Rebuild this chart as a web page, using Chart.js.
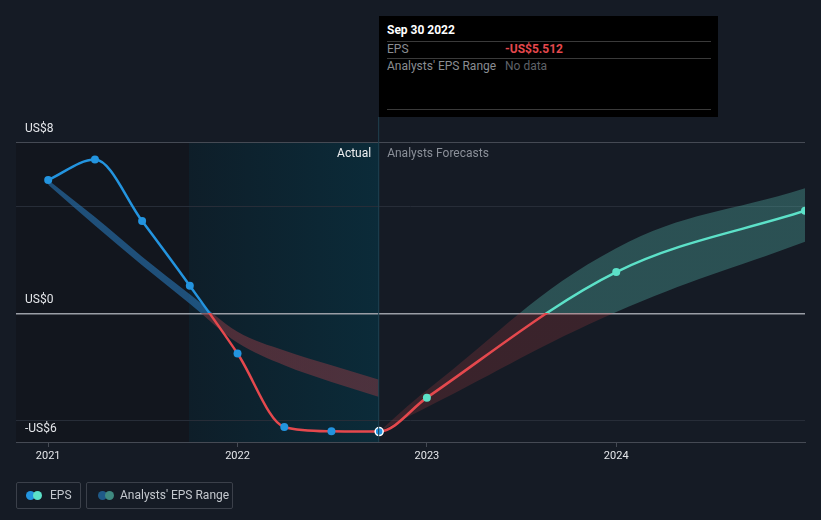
<!DOCTYPE html>
<html>
<head>
<meta charset="utf-8">
<script src="https://cdn.jsdelivr.net/npm/chart.js@4"></script>
<style>
body { margin: 0; background: #151b25; font-family: Roboto, sans-serif; }
#wrap { position: relative; width: 821px; height: 520px; }
#tip { position: absolute; left: 379px; top: 16px; width: 339px; height: 101px; background: #000; font-size: 12px; }
#tip .ttl { position: absolute; left: 8px; top: 7px; color: #fff; font-weight: bold; }
#tip .ln { position: absolute; left: 8px; width: 324px; height: 1px; background: #3a3a3a; }
#tip .k { position: absolute; left: 8px; color: #8a8d92; }
#tip .v { position: absolute; left: 126px; }
.leg { position: absolute; top: 482px; height: 25px; border: 1px solid #3b404a; border-radius: 2px; color: #c4c8ce; font-size: 12px; line-height: 25px; }
.dot { position: absolute; top: 8px; width: 9px; height: 9px; border-radius: 50%; }
</style>
</head>
<body>
<div id="wrap">
<canvas id="eps" width="821" height="520"></canvas>
<div id="tip">
  <div class="ttl">Sep 30 2022</div>
  <div class="ln" style="top:25px"></div>
  <div class="k" style="top:26px">EPS</div>
  <div class="v" style="top:26px;color:#e5484d;font-weight:bold">-US$5.512</div>
  <div class="ln" style="top:42px"></div>
  <div class="k" style="top:43px">Analysts' EPS Range</div>
  <div class="v" style="top:43px;color:#5f6268">No data</div>
  <div class="ln" style="top:93px"></div>
</div>
<div class="leg" style="left:16px;width:63px">
  <span class="dot" style="left:9px;background:#2394df"></span>
  <span class="dot" style="left:16px;background:#5ce1c8"></span>
  <span style="position:absolute;left:33px">EPS</span>
</div>
<div class="leg" style="left:86px;width:145px">
  <span class="dot" style="left:11px;background:#1f5a88"></span>
  <span class="dot" style="left:18px;background:#3f8a80"></span>
  <span style="position:absolute;left:33px">Analysts' EPS Range</span>
</div>
</div>
<script>
// quarterly EPS, decimal years
var epsDates = [2021.0, 2021.247, 2021.496, 2021.748, 2022.0, 2022.247, 2022.496, 2022.748];
var epsValues = [6.23, 7.18, 4.31, 1.29, -1.87, -5.30, -5.50, -5.512];

// past analyst estimates (range)
var pastHigh = [6.23, 4.5, 2.65, 0.9, -0.85, -1.73, -2.42, -3.1];
var pastLow = [6.0, 4.1, 2.25, 0.45, -1.37, -2.42, -3.2, -3.9];

// forecasts (start at the last actual)
var fcDates = [2022.748, 2023.0, 2024.0, 2024.997];
var fcValues = [-5.512, -3.93, 1.93, 4.79];
var fcHigh = [-5.512, -3.58, 3.04, 5.84];
var fcLow = [-5.512, -4.38, 0.07, 3.35];

var yTicks = [-6, -5, 0, 5, 8];
var yLabels = { '8': 'US$8', '0': 'US$0', '-6': '-US$6' };
var xYears = [2021, 2022, 2023, 2024];

function pts(xs, ys) {
  return xs.map(function (x, i) { return { x: x, y: ys[i] }; });
}

// forecast line joined to the previous actual so the curve leaves it smoothly
var fcLine = [{ x: epsDates[6], y: epsValues[6] }].concat(pts(fcDates, fcValues));

// colour split at zero
function splitColor(above, below) {
  return function (c) {
    var ch = c.chart, area = ch.chartArea;
    if (!area) return above;
    var y0 = ch.scales.y.getPixelForValue(0);
    var g = ch.ctx.createLinearGradient(0, area.top, 0, area.bottom);
    var s = Math.min(Math.max((y0 - area.top) / (area.bottom - area.top), 0), 1);
    g.addColorStop(0, above);
    g.addColorStop(s, above);
    g.addColorStop(s, below);
    g.addColorStop(1, below);
    return g;
  };
}

var bgPlugin = {
  id: 'bg',
  beforeDraw: function (ch) {
    var c = ch.ctx, a = ch.chartArea, x = ch.scales.x;
    c.save();
    c.fillStyle = '#151b25';
    c.fillRect(0, 0, ch.width, ch.height);
    var xa = x.getPixelForValue(2021.744), xb = x.getPixelForValue(2022.748);
    c.fillStyle = '#12161e';
    c.fillRect(a.left, a.top, xa - a.left, a.bottom - a.top);
    var g = c.createLinearGradient(xa, 0, xb, 0);
    g.addColorStop(0, '#0e1e29');
    g.addColorStop(1, '#0b2b39');
    c.fillStyle = g;
    c.fillRect(xa, a.top, xb - xa, a.bottom - a.top);
    c.restore();
  },
  afterDraw: function (ch) {
    var c = ch.ctx, a = ch.chartArea, y = ch.scales.y, x = ch.scales.x;
    c.save();
    c.font = '12px Roboto';
    c.textBaseline = 'middle';
    c.fillStyle = '#e4e6ea';
    Object.keys(yLabels).forEach(function (k) {
      c.fillText(yLabels[k], 25, y.getPixelForValue(+k) - 13);
    });
    var xb = x.getPixelForValue(2022.748);
    c.strokeStyle = '#1f4150';
    c.lineWidth = 1;
    c.beginPath();
    c.moveTo(xb - 0.5, 117);
    c.lineTo(xb - 0.5, a.bottom);
    c.stroke();
    c.textAlign = 'right';
    c.fillStyle = '#eef0f2';
    c.fillText('Actual', xb - 8, 154);
    c.textAlign = 'left';
    c.fillStyle = '#8b9099';
    c.fillText('Analysts Forecasts', xb + 8, 154);
    c.restore();
  }
};

var gridColor = function (c) {
  var v = c.tick && c.tick.value;
  if (v === 0) return '#9a9ea6';
  if (v === 8 || v === -6) return '#454a54';
  return '#272d38';
};

var config = {
  type: 'line',
  data: {
    datasets: [
      {
        label: 'pastHigh', data: pts(epsDates, pastHigh), order: 5,
        borderWidth: 0, pointRadius: 0, cubicInterpolationMode: 'monotone', fill: false
      },
      {
        label: 'pastLow', data: pts(epsDates, pastLow), order: 5,
        borderWidth: 0, pointRadius: 0, cubicInterpolationMode: 'monotone', fill: '-1',
        backgroundColor: splitColor('rgba(38,110,170,0.65)', 'rgba(120,55,65,0.6)')
      },
      {
        label: 'fcHigh', data: pts(fcDates, fcHigh), order: 5,
        borderWidth: 0, pointRadius: 0, tension: 0.4, fill: false
      },
      {
        label: 'fcLow', data: pts(fcDates, fcLow), order: 5,
        borderWidth: 0, pointRadius: 0, tension: 0.4, fill: '-1',
        backgroundColor: splitColor('rgba(88,190,178,0.33)', 'rgba(226,72,72,0.18)')
      },
      {
        label: 'EPS forecast', data: fcLine, order: 2,
        borderColor: splitColor('#5ce1c8', '#e5484d'), borderWidth: 2.5,
        cubicInterpolationMode: 'monotone', fill: false,
        segment: { borderColor: function (s) { return s.p0DataIndex === 0 ? 'rgba(0,0,0,0)' : undefined; } },
        pointRadius: [0, 0, 4, 4, 4], pointBackgroundColor: '#5ce1c8', pointBorderWidth: 0
      },
      {
        label: 'EPS', data: pts(epsDates, epsValues), order: 1,
        borderColor: splitColor('#2394df', '#e5484d'), borderWidth: 2.5,
        cubicInterpolationMode: 'monotone', fill: false,
        pointRadius: 4, pointBackgroundColor: '#2394df',
        pointBorderColor: ['#2394df', '#2394df', '#2394df', '#2394df', '#2394df', '#2394df', '#2394df', '#ffffff'],
        pointBorderWidth: [0, 0, 0, 0, 0, 0, 0, 1.5]
      }
    ]
  },
  options: {
    responsive: false,
    animation: false,
    layout: { padding: { left: 16, right: 16, top: 142, bottom: 48 } },
    plugins: { legend: { display: false }, tooltip: { enabled: false } },
    scales: {
      x: {
        type: 'linear', min: 2020.83, max: 2024.997,
        afterBuildTicks: function (s) { s.ticks = xYears.map(function (v) { return { value: v }; }); },
        afterFit: function (s) { s.height = 30; },
        ticks: { color: '#e4e6ea', font: { family: 'Roboto', size: 11 }, padding: 3, callback: function (v) { return String(v); } },
        grid: { drawOnChartArea: false, drawTicks: true, tickLength: 5, color: '#454a54' },
        border: { display: true, color: '#454a54' }
      },
      y: {
        min: -6, max: 8,
        afterBuildTicks: function (s) { s.ticks = yTicks.map(function (v) { return { value: v }; }); },
        afterFit: function (s) { s.width = 0; },
        ticks: { display: false },
        grid: { color: gridColor, drawTicks: false, lineWidth: function (c) { return c.tick && c.tick.value === 0 ? 1.5 : 1; } },
        border: { display: false }
      }
    }
  },
  plugins: [bgPlugin]
};

window.onload = function () {
  var ctx = document.getElementById('eps').getContext('2d');
  window.epsChart = new Chart(ctx, config);
};
</script>
</body>
</html>
